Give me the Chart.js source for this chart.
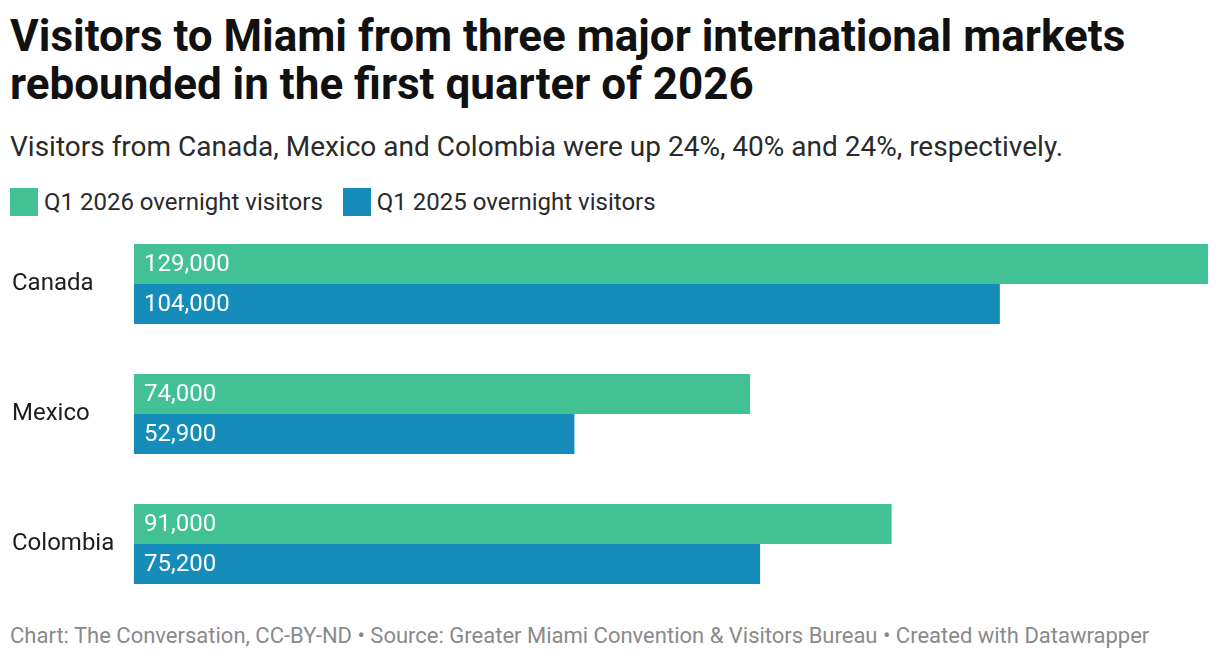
<!DOCTYPE html>
<html>
<head>
<meta charset="utf-8">
<script src="https://cdn.jsdelivr.net/npm/chart.js@4"></script>
<style>
  body { margin: 0; background: #fff; font-family: Roboto, sans-serif; color: #1d1d1d; }
  #wrap { position: relative; width: 1220px; height: 660px; }
  h1 { position: absolute; left: 10px; top: 12px; margin: 0; font-size: 44px; line-height: 48px; font-weight: 700; color: #111; white-space: nowrap; }
  .sub { position: absolute; left: 10px; top: 130px; font-size: 28px; color: #2a2a2a; white-space: nowrap; }
  .legend { position: absolute; left: 10px; top: 188px; display: flex; align-items: center; font-size: 24px; line-height: 28px; color: #2a2a2a; }
  .legend span.sw { width: 28px; height: 28px; display: inline-block; margin-right: 6px; }
  .legend .item { display: flex; align-items: center; margin-right: 20px; }
  .foot { position: absolute; left: 10px; top: 623px; font-size: 22px; color: #8a8a8a; white-space: nowrap; }
  #box { position: absolute; left: 0; top: 219px; width: 1220px; height: 390px; }
</style>
</head>
<body>
<div id="wrap">
  <h1>Visitors to Miami from three major international markets<br>rebounded in the first quarter of 2026</h1>
  <div class="sub">Visitors from Canada, Mexico and Colombia were up 24%, 40% and 24%, respectively.</div>
  <div class="legend">
    <div class="item"><span class="sw" style="background:#41c194"></span>Q1 2026 overnight visitors</div>
    <div class="item"><span class="sw" style="background:#158cba"></span>Q1 2025 overnight visitors</div>
  </div>
  <div id="box"><canvas id="chart"></canvas></div>
  <div class="foot">Chart: The Conversation, CC-BY-ND • Source: Greater Miami Convention &amp; Visitors Bureau • Created with Datawrapper</div>
</div>
<script>
const countries = ['Canada', 'Mexico', 'Colombia'];
const visitors2026 = [129000, 74000, 91000];
const visitors2025 = [104000, 52900, 75200];

// white value labels at the start of each bar
const barLabels = {
  id: 'barLabels',
  afterDatasetsDraw(chart) {
    const ctx = chart.ctx;
    ctx.save();
    ctx.font = '24px Roboto';
    ctx.fillStyle = '#fff';
    ctx.textBaseline = 'middle';
    chart.data.datasets.forEach((ds, i) => {
      chart.getDatasetMeta(i).data.forEach((bar, j) => {
        ctx.fillText(ds.data[j].toLocaleString('en-US'), bar.base + 10, bar.y + 1);
      });
    });
    ctx.restore();
  }
};

new Chart(document.getElementById('chart'), {
  type: 'bar',
  data: {
    labels: countries,
    datasets: [
      { label: 'Q1 2026 overnight visitors', data: visitors2026, backgroundColor: '#41c194' },
      { label: 'Q1 2025 overnight visitors', data: visitors2025, backgroundColor: '#158cba' }
    ]
  },
  options: {
    indexAxis: 'y',
    responsive: true,
    maintainAspectRatio: false,
    animation: false,
    categoryPercentage: 80 / 130,
    barPercentage: 1,
    layout: { padding: { left: 12, right: 12, top: 0, bottom: 0 } },
    plugins: { legend: { display: false }, tooltip: { enabled: false } },
    scales: {
      x: { display: false, min: 0, max: 129000 },
      y: {
        grid: { display: false },
        border: { display: false },
        afterFit(scale) {
          scale.width = 122;
          scale.paddingTop = 0;
          scale.paddingBottom = 0;
        },
        ticks: { crossAlign: 'far', color: '#1d1d1d', font: { family: 'Roboto', size: 24 }, padding: 0 }
      }
    }
  },
  plugins: [barLabels]
});
</script>
</body>
</html>
